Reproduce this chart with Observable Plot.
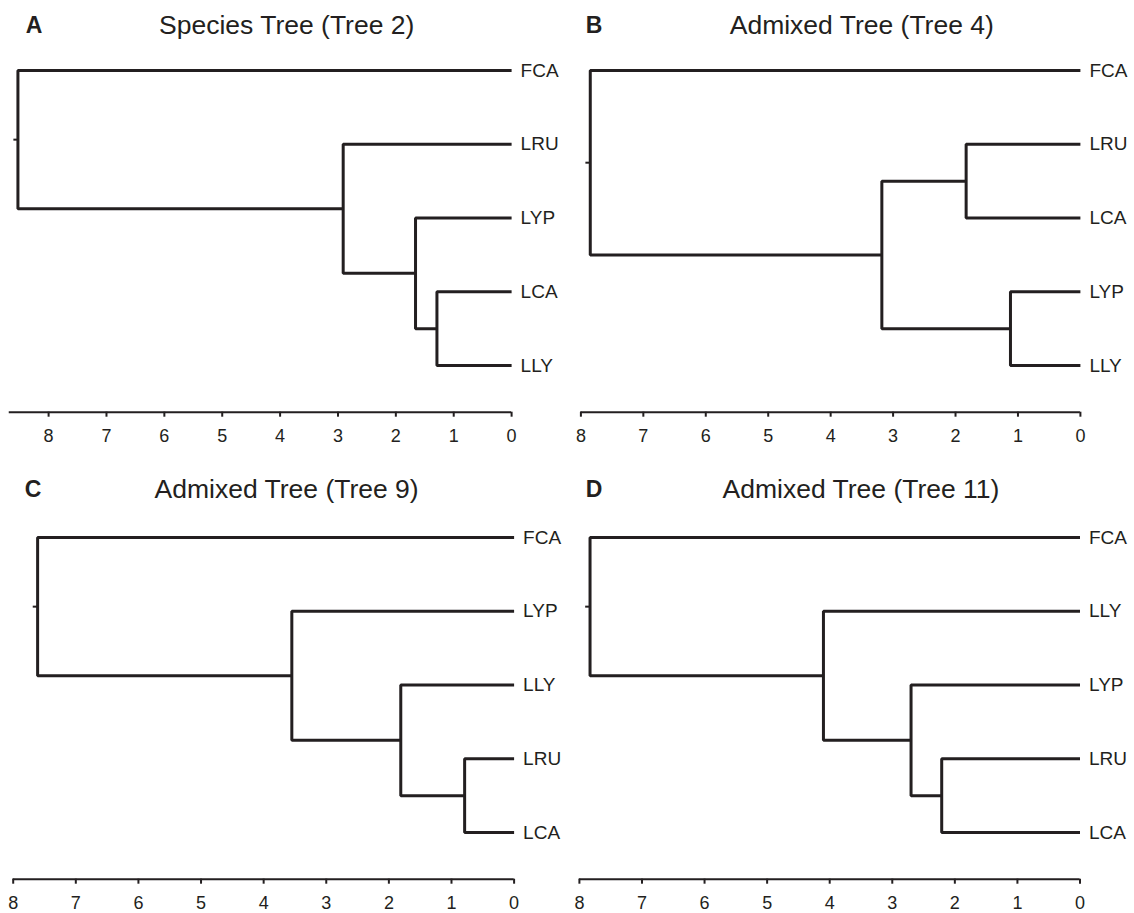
<!DOCTYPE html>
<html><head><meta charset="utf-8">
<script src="https://cdn.jsdelivr.net/npm/d3@7"></script>
<script src="https://cdn.jsdelivr.net/npm/@observablehq/plot@0.6"></script>
<style>
body{margin:0;background:#fff;}
#fig{position:relative;width:1134px;height:913px;font-family:"Liberation Sans",Arial,Helvetica,sans-serif;color:#231f20;overflow:hidden;}
.panel{position:absolute;}
.lab{position:absolute;transform:translate(-50%,-50%);white-space:nowrap;line-height:1;}
.letter{font-weight:bold;font-size:23px;}
.title{font-size:26.5px;}
</style></head><body><div id="fig"></div>
<script>
// ---- data ----
const letters = ["A","B","C","D"];
const titles = ["Species Tree (Tree 2)","Admixed Tree (Tree 4)","Admixed Tree (Tree 9)","Admixed Tree (Tree 11)"];
const axisTicks = [8,7,6,5,4,3,2,1,0];

// tips top to bottom; joins: pairs of children ("#k" = k-th internal node); ages = node heights
const tipsA = ["FCA","LRU","LYP","LCA","LLY"];
const joinsA = [["LCA","LLY"],["LYP","#0"],["LRU","#1"],["FCA","#2"]];
const agesA = [1.29, 1.66, 2.91, 8.53];

const tipsB = ["FCA","LRU","LCA","LYP","LLY"];
const joinsB = [["LRU","LCA"],["LYP","LLY"],["#0","#1"],["FCA","#2"]];
const agesB = [1.83, 1.12, 3.18, 7.85];

const tipsC = ["FCA","LYP","LLY","LRU","LCA"];
const joinsC = [["LRU","LCA"],["LLY","#0"],["LYP","#1"],["FCA","#2"]];
const agesC = [0.79, 1.81, 3.55, 7.61];

const tipsD = ["FCA","LLY","LYP","LRU","LCA"];
const joinsD = [["LRU","LCA"],["LYP","#0"],["LLY","#1"],["FCA","#2"]];
const agesD = [2.21, 2.70, 4.10, 7.83];

const axisStarts = [8.68, 8, 8, 8];

// ---- layout ----
const trees = [[tipsA,joinsA,agesA],[tipsB,joinsB,agesB],[tipsC,joinsC,agesC],[tipsD,joinsD,agesD]];
const panels = [
  {left:0,   top:0,   mL:48.1, mR:55.9, letterX:34,  titleX:286.7, ty:25},
  {left:567, top:0,   mL:13.4, mR:54.1, letterX:594, titleX:861.8, ty:25},
  {left:0,   top:467, mL:12.7, mR:53.4, letterX:33,  titleX:286.6, ty:489},
  {left:567, top:467, mL:11.9, mR:54.5, letterX:594, titleX:861.0, ty:489}
];
const INK = "#231f20";
const YMAX = 4.633;

function layoutTree(tips, joins, ages) {
  const pos = new Map();
  tips.forEach((t,i)=>pos.set(t,{x:0,y:i}));
  const segs = [];
  joins.forEach((pair,k)=>{
    const a = pos.get(pair[0]), b = pos.get(pair[1]), h = ages[k], id = "#"+k;
    segs.push({id,x:a.x,y:a.y},{id,x:h,y:a.y},{id,x:h,y:b.y},{id,x:b.x,y:b.y});
    pos.set(id,{x:h,y:(a.y+b.y)/2});
  });
  const root = pos.get("#"+(joins.length-1));
  return {segs, root, tipData: tips.map((t,i)=>({name:t,x:0,y:i}))};
}

const fig = document.getElementById("fig");
panels.forEach((p,i)=>{
  const [tips,joins,ages] = trees[i];
  const {segs, root, tipData} = layoutTree(tips,joins,ages);
  const chart = Plot.plot({
    width:567, height:467,
    marginTop:70, marginBottom:55.3, marginLeft:p.mL, marginRight:p.mR,
    x:{domain:[8,0], label:null},
    y:{domain:[0,YMAX], reverse:true, axis:null},
    style:{fontFamily:'"Liberation Sans",Arial,Helvetica,sans-serif', fontSize:"18px", color:INK, background:"transparent", overflow:"visible"},
    marks:[
      Plot.ruleY([YMAX],{x1:axisStarts[i], x2:0, stroke:INK, strokeWidth:2}),
      Plot.axisX({ticks:axisTicks, tickSize:5, tickPadding:12, fontSize:18, stroke:INK, strokeWidth:2, label:null, tickFormat:d=>String(d)}),
      Plot.line(segs,{x:"x", y:"y", z:"id", stroke:INK, strokeWidth:3, strokeLinejoin:"miter", strokeLinecap:"butt"}),
      Plot.ruleY([root],{y:"y", x1:d=>d.x, x2:d=>d.x+0.07, stroke:INK, strokeWidth:2}),
      Plot.text(tipData,{x:"x", y:"y", text:"name", textAnchor:"start", dx:9, fontSize:19, fill:INK})
    ]
  });
  const wrap = document.createElement("div");
  wrap.className = "panel";
  wrap.style.left = p.left+"px"; wrap.style.top = p.top+"px";
  wrap.appendChild(chart);
  fig.appendChild(wrap);

  const L = document.createElement("div");
  L.className = "lab letter"; L.textContent = letters[i];
  L.style.left = p.letterX+"px"; L.style.top = p.ty+"px";
  fig.appendChild(L);
  const T = document.createElement("div");
  T.className = "lab title"; T.textContent = titles[i];
  T.style.left = p.titleX+"px"; T.style.top = p.ty+"px";
  fig.appendChild(T);
});
</script>
</body></html>
